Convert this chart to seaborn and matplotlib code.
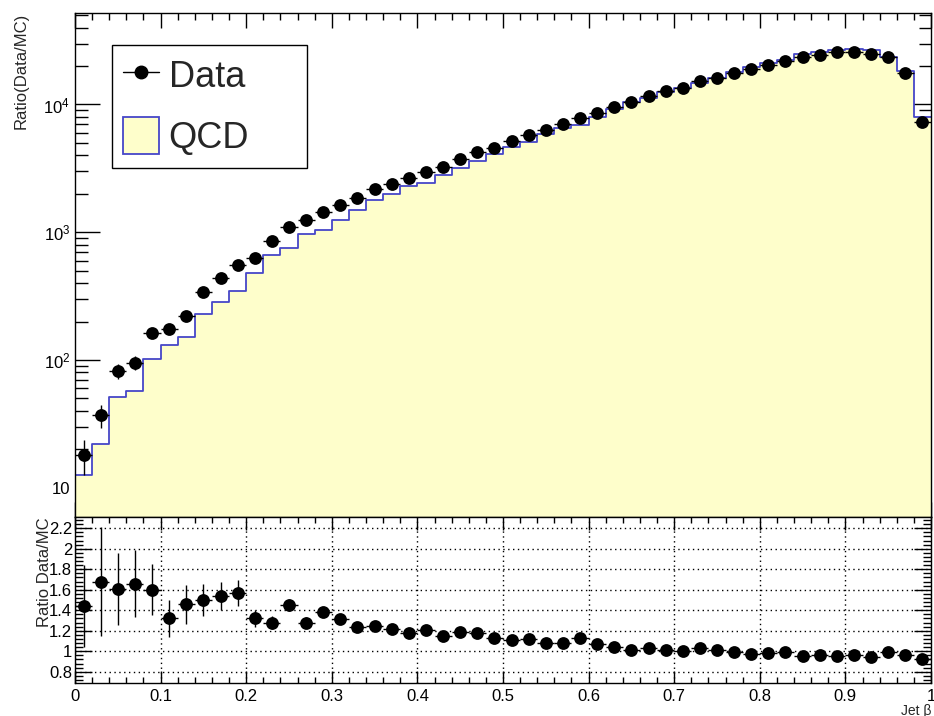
import numpy as np
import matplotlib
matplotlib.use("Agg")
import matplotlib.pyplot as plt
import seaborn as sns
from matplotlib.lines import Line2D
from matplotlib.patches import Patch
from matplotlib.ticker import FixedLocator, MultipleLocator, FuncFormatter, LogLocator, NullFormatter

# ---------------- data ----------------
bin_edges = [round(0.02 * i, 2) for i in range(51)]
bin_centers = [round(0.01 + 0.02 * i, 2) for i in range(50)]

data_counts = [18.1, 37.1, 82, 95, 162, 176, 222, 342, 435, 552,
               634, 855, 1089, 1257, 1432, 1625, 1866, 2194, 2399, 2655,
               2957, 3236, 3767, 4240, 4589, 5140, 5728, 6343, 7063, 7866,
               8551, 9640, 10550, 11610, 12640, 13420, 15210, 16150, 17690, 19000,
               20530, 22070, 23420, 24590, 25630, 25940, 24890, 23420, 17570, 7280]
data_errors = [5.5, 7.5, 11, 12, 14, 14, 16, 19, 21, 24,
               25, 29, 33, 35, 38, 40, 43, 47, 49, 52,
               54, 57, 61, 65, 68, 72, 76, 80, 84, 89,
               92, 98, 103, 108, 112, 116, 123, 127, 133, 138,
               143, 149, 153, 157, 160, 161, 158, 153, 133, 85]
qcd_counts = [12.6, 21.9, 51, 57.5, 101, 132, 152, 227, 285, 348,
              479, 661, 747, 977, 1037, 1244, 1503, 1778, 1982, 2300,
              2450, 2810, 3170, 3590, 4060, 4630, 5110, 5870, 6540, 6960,
              7990, 9270, 10450, 11270, 12510, 13420, 14770, 15990, 17870, 19590,
              20950, 22290, 24650, 25610, 26840, 27020, 26480, 23660, 18300, 7910]
ratio_values = [1.44, 1.68, 1.61, 1.66, 1.60, 1.32, 1.46, 1.50, 1.54, 1.57,
                1.32, 1.28, 1.45, 1.28, 1.38, 1.31, 1.24, 1.25, 1.22, 1.175,
                1.21, 1.15, 1.19, 1.18, 1.13, 1.11, 1.12, 1.08, 1.08, 1.13,
                1.07, 1.04, 1.01, 1.03, 1.01, 1.00, 1.03, 1.01, 0.99, 0.97,
                0.98, 0.99, 0.95, 0.96, 0.955, 0.96, 0.94, 0.99, 0.96, 0.92]
ratio_errors = [0.40, 0.53, 0.35, 0.33, 0.25, 0.18, 0.19, 0.16, 0.14, 0.13,
                0.08, 0.06, 0.06, 0.05, 0.05, 0.04, 0.04, 0.035, 0.03, 0.03,
                0.03, 0.025, 0.025, 0.02, 0.02, 0.02, 0.02, 0.02, 0.015, 0.015,
                0.015, 0.015, 0.015, 0.015, 0.012, 0.012, 0.012, 0.012, 0.01, 0.01,
                0.01, 0.01, 0.01, 0.01, 0.01, 0.01, 0.01, 0.01, 0.01, 0.015]
top_ylabel = "Ratio(Data/MC)"
bottom_ylabel = "Ratio Data/MC"
x_label = "Jet \u03b2"
legend_labels = ["Data", "QCD"]
ratio_ticks = [0.8, 1.0, 1.2, 1.4, 1.6, 1.8, 2.0, 2.2]
x_ticks = [0, 0.1, 0.2, 0.3, 0.4, 0.5, 0.6, 0.7, 0.8, 0.9, 1.0]

# ---------------- style ----------------
sns.set_theme(style="ticks")
plt.rcParams["font.family"] = ["Liberation Sans", "DejaVu Sans"]
plt.rcParams["axes.linewidth"] = 1.0

FILL = "#fefecb"
EDGE = "#4646c8"

W, H = 934, 716
fig = plt.figure(figsize=(W / 100, H / 100), dpi=100)
left, right = 75 / W, 931 / W
ax_top = fig.add_axes([left, 1 - 517 / H, right - left, (517 - 13) / H])
ax_bot = fig.add_axes([left, 1 - 683 / H, right - left, (683 - 517) / H])

# ---------------- top panel ----------------
ax_top.set_yscale("log")
# filled QCD histogram
sns.histplot(x=bin_centers, weights=qcd_counts, bins=bin_edges, element="step",
             fill=True, color=FILL, alpha=1.0, linewidth=0,
             ax=ax_top, legend=False)
for coll in ax_top.collections:
    coll.set_facecolor(FILL)
    coll.set_edgecolor("none")
# QCD outline
sns.histplot(x=bin_centers, weights=qcd_counts, bins=bin_edges, element="step",
             fill=False, color=EDGE, linewidth=1.3, ax=ax_top, legend=False)

ax_top.errorbar(bin_centers, data_counts, yerr=data_errors, xerr=0.01, fmt="none",
                ecolor="black", elinewidth=1.0, capsize=0, zorder=3)
sns.scatterplot(x=bin_centers, y=data_counts, color="black", s=85, marker="o",
                edgecolor="black", linewidth=0, ax=ax_top, zorder=4, legend=False)

ax_top.set_xlim(0, 1)
ax_top.set_ylim(5.9, 5.2e4)
ax_top.set_xlabel("")
ax_top.set_ylabel(top_ylabel, fontsize=12, loc="top")
ax_top.yaxis.set_label_coords(-0.054, 1.0)
ax_top.xaxis.set_major_locator(FixedLocator(x_ticks))
ax_top.xaxis.set_minor_locator(MultipleLocator(0.02))
ax_top.tick_params(axis="x", labelbottom=False)


def log_fmt(v, pos):
    if v <= 0:
        return ""
    e = int(round(np.log10(v)))
    if abs(v - 10 ** e) > 1e-6 * v:
        return ""
    if e == 1:
        return "10"
    return r"$\mathregular{10^{%d}}$" % e


ax_top.yaxis.set_major_locator(LogLocator(base=10, numticks=10))
ax_top.yaxis.set_minor_locator(LogLocator(base=10, subs=np.arange(2, 10), numticks=20))
ax_top.yaxis.set_major_formatter(FuncFormatter(log_fmt))
ax_top.yaxis.set_minor_formatter(NullFormatter())
ax_top.tick_params(which="both", direction="in", top=True, right=True, labelsize=12, colors="black")
ax_top.tick_params(axis="y", which="major", length=18, width=1.0)
ax_top.tick_params(axis="y", which="minor", length=9, width=1.0)
ax_top.tick_params(axis="x", which="major", length=11, width=1.0)
ax_top.tick_params(axis="x", which="minor", length=5, width=1.0)

handles = [Line2D([0], [0], color="black", marker="o", markersize=9, linewidth=1.0),
           Patch(facecolor=FILL, edgecolor=EDGE, linewidth=1.3)]
leg = ax_top.legend(handles, legend_labels, loc="upper left",
                    bbox_to_anchor=(0.043, 0.702, 0.228, 0.235), mode="expand",
                    fontsize=26, frameon=True,
                    fancybox=False, framealpha=1.0, edgecolor="black",
                    handlelength=1.0, handleheight=1.2, handletextpad=0.25,
                    borderpad=0.32, labelspacing=0.62, borderaxespad=0)
leg.get_frame().set_linewidth(1.0)

# ---------------- bottom panel ----------------
ax_bot.errorbar(bin_centers, ratio_values, yerr=ratio_errors, xerr=0.01, fmt="none",
                ecolor="black", elinewidth=1.0, capsize=0, zorder=3)
sns.scatterplot(x=bin_centers, y=ratio_values, color="black", s=85, marker="o",
                edgecolor="black", linewidth=0, ax=ax_bot, zorder=4, legend=False)
ax_bot.set_xlim(0, 1)
ax_bot.set_ylim(0.69, 2.31)
ax_bot.xaxis.set_major_locator(FixedLocator(x_ticks))
ax_bot.xaxis.set_minor_locator(MultipleLocator(0.02))
ax_bot.yaxis.set_major_locator(FixedLocator(ratio_ticks))
ax_bot.yaxis.set_minor_locator(MultipleLocator(0.04))
ax_bot.xaxis.set_major_formatter(FuncFormatter(lambda v, p: "%g" % round(v, 2)))
ax_bot.yaxis.set_major_formatter(FuncFormatter(lambda v, p: "%g" % round(v, 2)))
ax_bot.grid(True, which="major", linestyle=(0, (1, 2.5)), color="black", linewidth=1.0)
ax_bot.set_axisbelow(True)
ax_bot.tick_params(which="both", direction="in", top=True, right=True, labelsize=12, colors="black")
ax_bot.tick_params(axis="y", which="major", length=12, width=1.0, pad=2)
ax_bot.tick_params(axis="y", which="minor", length=6, width=1.0)
ax_bot.tick_params(axis="x", which="major", length=9, width=1.0, pad=4)
ax_bot.tick_params(axis="x", which="minor", length=4, width=1.0)
ax_bot.set_ylabel(bottom_ylabel, fontsize=12, loc="top")
ax_bot.yaxis.set_label_coords(-0.027, 1.0)
ax_bot.set_xlabel(x_label, fontsize=10, loc="right", labelpad=0)

for a in (ax_top, ax_bot):
    for s in a.spines.values():
        s.set_color("black")
        s.set_linewidth(1.0)

fig.savefig("out.png", dpi=100)
